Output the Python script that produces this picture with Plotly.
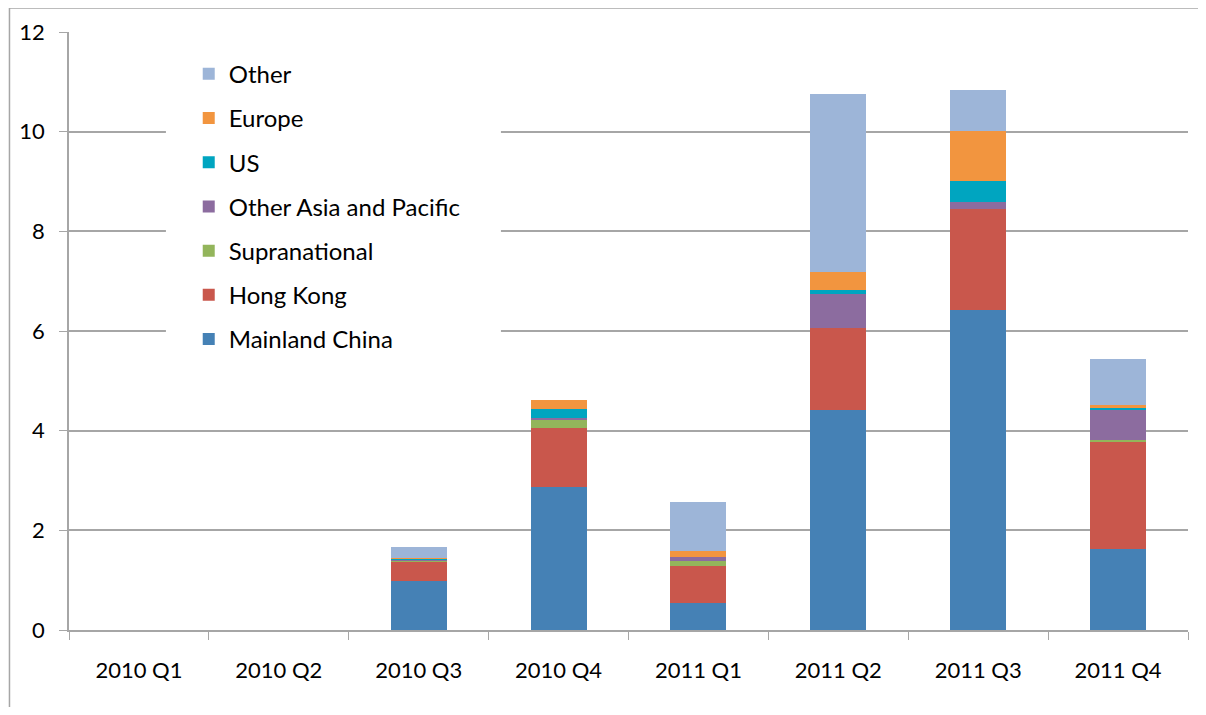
import plotly.graph_objects as go

quarters = ["2010 Q1", "2010 Q2", "2010 Q3", "2010 Q4", "2011 Q1", "2011 Q2", "2011 Q3", "2011 Q4"]
mainland_china = [0, 0, 0.99, 2.87, 0.55, 4.41, 6.43, 1.62]
hong_kong = [0, 0, 0.39, 1.19, 0.73, 1.66, 2.02, 2.17]
supranational = [0, 0, 0.02, 0.17, 0.10, 0.0, 0.0, 0.02]
other_asia_pacific = [0, 0, 0.01, 0.03, 0.085, 0.68, 0.145, 0.62]
us = [0, 0, 0.02, 0.18, 0.0, 0.07, 0.42, 0.03]
europe = [0, 0, 0.02, 0.18, 0.125, 0.37, 0.99, 0.06]
other = [0, 0, 0.21, 0.0, 0.97, 3.57, 0.83, 0.91]

series = [
    ("Mainland China", mainland_china, "#4581B5"),
    ("Hong Kong", hong_kong, "#C9574C"),
    ("Supranational", supranational, "#93B55B"),
    ("Other Asia and Pacific", other_asia_pacific, "#8C6C9F"),
    ("US", us, "#00A5C0"),
    ("Europe", europe, "#F2953F"),
    ("Other", other, "#9DB5D8"),
]

fig = go.Figure()
for i, (name, vals, color) in enumerate(series):
    fig.add_trace(go.Bar(x=quarters, y=vals, name=name, legendgroup=name, legendrank=1000 - i,
                         marker=dict(color=color, line=dict(width=0)), width=0.4))

grid = "#A6A6A6"
# page has an 8px body margin, so figure coordinates are shifted by 8px
fig.update_layout(
    barmode="stack",
    width=1190, height=699,
    margin=dict(l=61, r=10, t=24, b=77),
    paper_bgcolor="white", plot_bgcolor="white",
    font=dict(family="Lato, Open Sans, sans-serif", size=22, color="black"),
    legend=dict(traceorder="grouped", x=0.107, y=0.967, xanchor="left", yanchor="top",
                bgcolor="rgba(0,0,0,0)", font=dict(size=24), itemsizing="constant",
                tracegroupgap=10, itemwidth=30),
    showlegend=True,
    xaxis=dict(showline=True, linecolor=grid, linewidth=1.5, ticks="outside", ticklen=8, tickcolor=grid,
               tickson="boundaries", ticklabelstandoff=20, showgrid=False, tickfont=dict(size=22)),
    yaxis=dict(range=[0, 12], dtick=2, showline=True, linecolor=grid, linewidth=1.5, ticks="outside",
               ticklen=8, tickcolor=grid, gridcolor=grid, gridwidth=1.5, zeroline=False,
               ticklabelstandoff=10, tickfont=dict(size=22)),
    shapes=[
        # white backdrop behind the legend that interrupts the gridlines
        dict(type="rect", xref="x", yref="y", x0=0.193, x1=2.588, y0=4.8, y1=11.7,
             line=dict(width=0), fillcolor="white", layer="between"),
        # chart outer border: top and left edges
        dict(type="line", xref="paper", yref="paper", x0=-0.0532, x1=1.2, y0=1.040, y1=1.040,
             line=dict(color=grid, width=1.5), layer="below"),
        dict(type="line", xref="paper", yref="paper", x0=-0.0532, x1=-0.0532, y0=-0.3, y1=1.040,
             line=dict(color=grid, width=1.5), layer="below"),
    ],
)

fig.write_html("out.html")
